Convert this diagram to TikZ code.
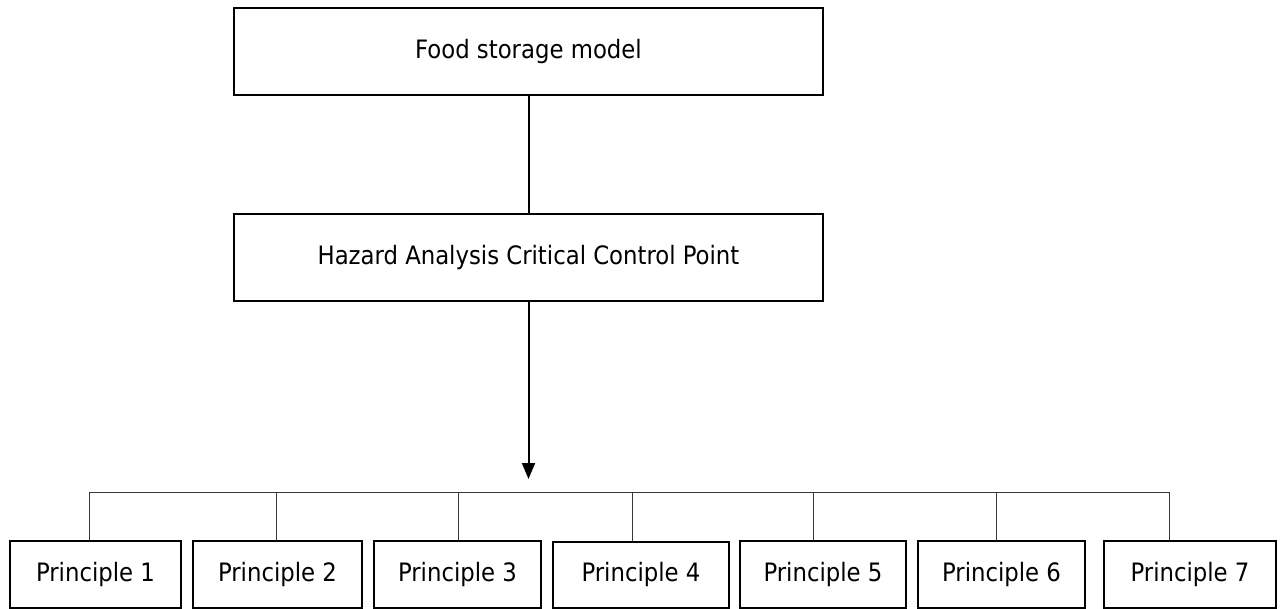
\documentclass[tikz,border=0pt]{standalone}
\usepackage{fontspec}
\setmainfont{DejaVu Sans Condensed}
\usetikzlibrary{arrows.meta}
\newdimen\haccpx
\haccpx=0.75pt
\tikzset{
  haccbox/.style={draw=black, line width=2\haccpx, inner sep=0pt, minimum height=87\haccpx, font={\fontsize{19}{23}\selectfont}},
  pbox/.style={draw=black, line width=2\haccpx, inner sep=0pt, minimum height=67\haccpx, font={\fontsize{19}{23}\selectfont}},
  haccline/.style={black, line width=2\haccpx},
  haccbar/.style={black!78, line width=1\haccpx}
}

\begin{document}
\begin{tikzpicture}[x=\haccpx,y=-\haccpx]
\useasboundingbox (0,0) rectangle (1280,609);
\node[haccbox, minimum width=589\haccpx] (food) at (528.5,51.5) {Food storage model};
\node[haccbox, minimum width=589\haccpx] (hacc) at (528.5,257.5) {Hazard Analysis Critical Control Point};
\node[pbox, minimum width=171\haccpx] (p1) at (95.5,574.5) {Principle 1};
\node[pbox, minimum width=169\haccpx] (p2) at (277.5,574.5) {Principle 2};
\node[pbox, minimum width=167\haccpx] (p3) at (457.5,574.5) {Principle 3};
\node[pbox, minimum width=176\haccpx, minimum height=66\haccpx] (p4) at (641,575) {Principle 4};
\node[pbox, minimum width=166\haccpx] (p5) at (823,574.5) {Principle 5};
\node[pbox, minimum width=167\haccpx] (p6) at (1001.5,574.5) {Principle 6};
\node[pbox, minimum width=172\haccpx] (p7) at (1190,574.5) {Principle 7};
\coordinate (tip) at (528.5,479);
\coordinate (d1) at (89,492);
\coordinate (d2) at (276,492);
\coordinate (d3) at (458,492);
\coordinate (d4) at (632,492);
\coordinate (d5) at (813,492);
\coordinate (d6) at (996,492);
\coordinate (d7) at (1169,492);
\draw[haccline] (food.south) -- (hacc.north);
\draw[haccline, -{Triangle[length=12pt,width=9.75pt]}] (hacc.south) -- (tip);
\draw[haccbar] (d1) -- (d7);
\draw[haccbar] (d1) -- (d1 |- p1.north);
\draw[haccbar] (d2) -- (d2 |- p2.north);
\draw[haccbar] (d3) -- (d3 |- p3.north);
\draw[haccbar] (d4) -- (d4 |- p4.north);
\draw[haccbar] (d5) -- (d5 |- p5.north);
\draw[haccbar] (d6) -- (d6 |- p6.north);
\draw[haccbar] (d7) -- (d7 |- p7.north);
\end{tikzpicture}
\end{document}
